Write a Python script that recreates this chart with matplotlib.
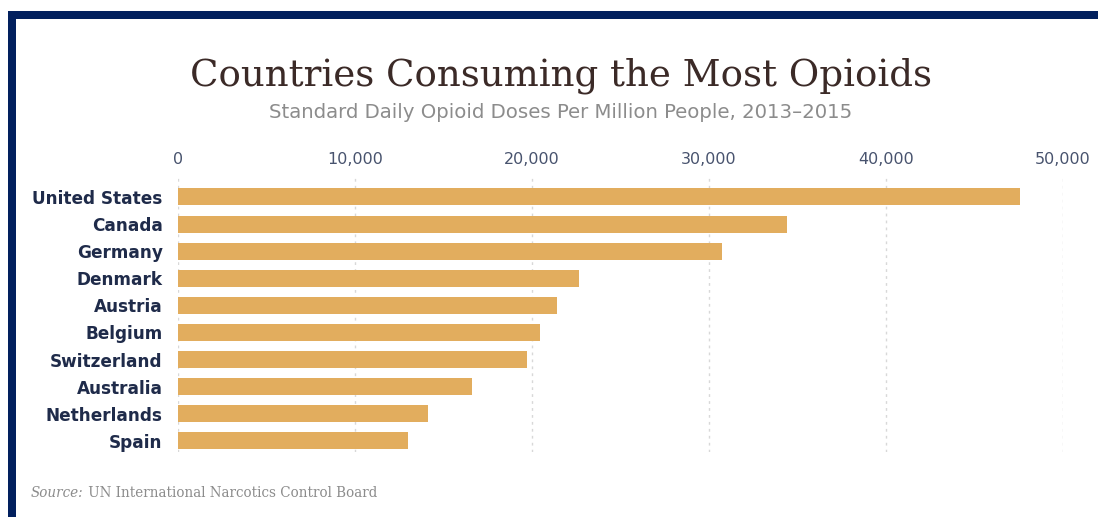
import matplotlib
matplotlib.use("Agg")
import matplotlib.pyplot as plt
from matplotlib.patches import Rectangle

countries = ["United States", "Canada", "Germany", "Denmark", "Austria",
             "Belgium", "Switzerland", "Australia", "Netherlands", "Spain"]
doses = [47580, 34420, 30760, 22630, 21440, 20480, 19700, 16630, 14110, 13020]
xticks = [0, 10000, 20000, 30000, 40000, 50000]
xtick_labels = ["0", "10,000", "20,000", "30,000", "40,000", "50,000"]

W, H = 1098, 517
fig = plt.figure(figsize=(W / 100, H / 100), dpi=100)
fig.patch.set_facecolor("white")

navy = "#02205e"
# frame: top and left bars
fig.add_artist(Rectangle((8 / W, 1 - 19 / H), 1, 8 / H, transform=fig.transFigure,
                         color=navy, lw=0))
fig.add_artist(Rectangle((8 / W, 0), 8 / W, 1 - 11 / H, transform=fig.transFigure,
                         color=navy, lw=0))

ax = fig.add_axes([178 / W, 1 - 452 / H, 885 / W, 277 / H])
ypos = list(range(len(countries)))
ax.barh(ypos, doses, height=0.63, color="#e2ad5e", zorder=2)
ax.set_xlim(0, 50000)
ax.set_ylim(9.41, -0.81)

ax.set_xticks(xticks)
ax.set_xticklabels(xtick_labels, fontsize=11.5, color="#48536e",
                   fontfamily="DejaVu Sans")
ax.xaxis.tick_top()
ax.tick_params(axis="x", length=0, pad=6)
ax.set_yticks(ypos)
ax.set_yticklabels(countries, fontsize=12.2, color="#1f2b4a",
                   fontfamily="DejaVu Sans", fontweight="bold")
ax.tick_params(axis="y", length=0, pad=11)
for s in ax.spines.values():
    s.set_visible(False)
ax.grid(axis="x", color="#d8d8d8", ls=(0, (2, 3)), lw=1, zorder=0)
ax.grid(axis="y", visible=False)

fig.text(561 / W, 1 - 76 / H, "Countries Consuming the Most Opioids",
         ha="center", va="center", fontsize=26.7, color="#3b2a27",
         fontfamily="DejaVu Serif")
fig.text(561 / W, 1 - 113 / H,
         "Standard Daily Opioid Doses Per Million People, 2013\u20132015",
         ha="center", va="center", fontsize=14.2, color="#8c8c8c",
         fontfamily="DejaVu Sans")

src = fig.text(31 / W, 1 - 493 / H, "Source:", ha="left", va="center",
               fontsize=9.75, color="#8c8c8c", fontfamily="DejaVu Serif",
               style="italic")
ax.annotate(" UN International Narcotics Control Board", xy=(1, 0),
            xycoords=src, ha="left", va="bottom", fontsize=9.75,
            color="#8c8c8c", fontfamily="DejaVu Serif",
            annotation_clip=False)

fig.savefig("out.png", dpi=100)
